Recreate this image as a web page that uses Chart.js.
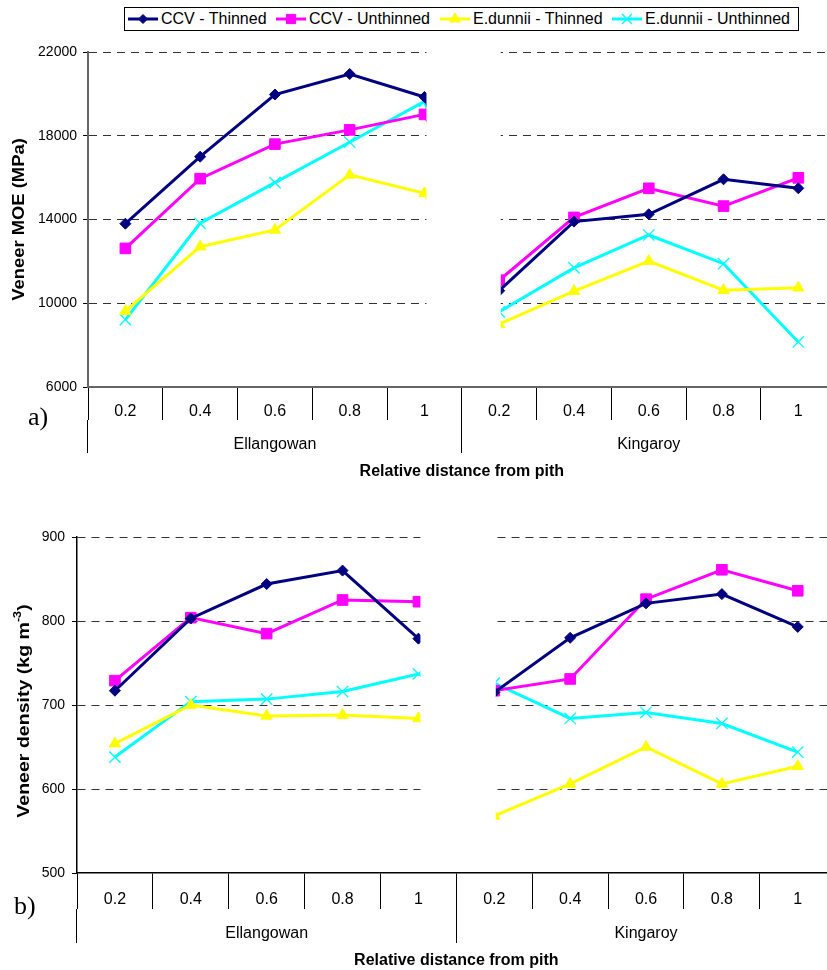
<!DOCTYPE html>
<html>
<head>
<meta charset="utf-8">
<title>Veneer MOE and density by relative distance from pith</title>
<script src="https://cdn.jsdelivr.net/npm/chart.js@4.4.1/dist/chart.umd.min.js"></script>
<style>
  html, body { margin: 0; padding: 0; background: #fff; overflow: hidden; width: 827px; height: 970px; }
  #wrap { position: relative; width: 827px; height: 970px; overflow: hidden; }
  #wrap > canvas { position: absolute; left: 0; }
  #moe { top: 0; }
  #den { top: 481px; }
  #legend { position: absolute; left: 124px; top: 7px; width: 673px; height: 22px; border: 1px solid #000;
            background: #fff; font: 16px "Liberation Sans", Arial, sans-serif; color: #000; }
  #legend .item { position: absolute; top: 0; height: 22px; display: flex; align-items: center; white-space: nowrap; }
  #legend .item canvas { display: block; margin-right: 3px; }
  .panel { position: absolute; font: 26px "Liberation Serif", "Times New Roman", serif; line-height: 26px; color: #000; }
</style>
</head>
<body>
<div id="wrap">
  <canvas id="moe" width="845" height="481"></canvas>
  <canvas id="den" width="845" height="489"></canvas>
  <div id="legend"></div>
  <div class="panel" style="left:28px; top:404px;">a)</div>
  <div class="panel" style="left:14px; top:893px;">b)</div>
</div>
<script>
// Categories: relative distance from pith, repeated for each site
const categories = ['0.2', '0.4', '0.6', '0.8', '1', '0.2', '0.4', '0.6', '0.8', '1'];
const sites = ['Ellangowan', 'Kingaroy'];
const seriesNames = ['CCV - Thinned', 'CCV - Unthinned', 'E.dunnii - Thinned', 'E.dunnii - Unthinned'];

// a) Veneer MOE (MPa)
const moeCcvThinned      = [13800, 17000, 19970, 20950, 19850, 10600, 13900, 14250, 15920, 15490];
const moeCcvUnthinned    = [12620, 15950, 17600, 18280, 19020, 11100, 14100, 15490, 14640, 15990];
const moeDunniiThinned   = [9620, 12700, 13500, 16130, 15250, 9000, 10580, 12010, 10620, 10740];
const moeDunniiUnthinned = [9220, 13820, 15760, 17690, 19640, 9590, 11690, 13260, 11890, 8150];
const moeTicks = [6000, 10000, 14000, 18000, 22000];

// b) Veneer density (kg m-3)
const denCcvThinned      = [717, 803, 844, 860, 779, 715, 780, 821, 832, 793];
const denCcvUnthinned    = [729, 804, 785, 825, 823, 717, 731, 826, 861, 836];
const denDunniiThinned   = [654, 700, 687, 688, 684, 568, 606, 650, 606, 627];
const denDunniiUnthinned = [638, 704, 707, 716, 737, 726, 684, 691, 678, 644];
const densityTicks = [500, 600, 700, 800, 900];

const FAMILY = '"Liberation Sans", Arial, sans-serif';

const seriesStyles = [
  { color: '#000080', pointStyle: 'rectRot',  radius: 5.5, borderWidth: 1,   legendRadius: 4.5 },
  { color: '#FF00FF', pointStyle: 'rect',     radius: 7.5, borderWidth: 1,   legendRadius: 6.5 },
  { color: '#FFFF00', pointStyle: 'triangle', radius: 6.5, borderWidth: 1,   legendRadius: 6 },
  { color: '#00FFFF', pointStyle: 'crossRot', radius: 8,   borderWidth: 1.3, legendRadius: 7 }
];

// The two sites are drawn as separate runs: blank the band between them
const siteBreak = {
  id: 'siteBreak',
  afterDatasetsDraw(chart) {
    const xs = chart.scales.x, a = chart.chartArea, ctx = chart.ctx;
    const perSite = categories.length / sites.length;
    const x0 = xs.getPixelForValue(perSite - 1) + 2;
    const x1 = xs.getPixelForValue(perSite) + 1.5;
    ctx.save();
    ctx.fillStyle = '#fff';
    ctx.fillRect(x0, a.top - 3, x1 - x0, a.bottom - 1.5 - (a.top - 3));
    ctx.restore();
  }
};

// Rotated y-axis title, with optional superscript part
const yTitle = {
  id: 'yTitle',
  afterDraw(chart, args, opts) {
    const ctx = chart.ctx, a = chart.chartArea;
    const cy = (a.top + a.bottom) / 2 + (opts.dy || 0);
    ctx.save();
    ctx.translate(opts.x, cy);
    ctx.rotate(-Math.PI / 2);
    ctx.scale(opts.stretch, 1);
    ctx.fillStyle = '#000';
    ctx.textBaseline = 'middle';
    ctx.textAlign = 'left';
    let total = 0;
    const widths = opts.parts.map(p => {
      ctx.font = 'bold ' + p.size + 'px ' + FAMILY;
      const w = ctx.measureText(p.text).width;
      total += w;
      return w;
    });
    let x = -total / 2;
    opts.parts.forEach((p, i) => {
      ctx.font = 'bold ' + p.size + 'px ' + FAMILY;
      ctx.fillText(p.text, x, p.rise ? -p.rise : 0);
      x += widths[i];
    });
    ctx.restore();
  }
};

function makeChart(id, seriesValues, ticks, o) {
  const datasets = seriesValues.map((vals, i) => {
    const st = seriesStyles[i];
    return {
      label: seriesNames[i],
      data: vals,
      borderColor: st.color,
      backgroundColor: st.color,
      borderWidth: 3,
      tension: 0,
      pointStyle: st.pointStyle,
      pointRadius: st.radius,
      pointHoverRadius: st.radius,
      pointBorderWidth: st.borderWidth,
      pointBackgroundColor: st.color,
      pointBorderColor: st.color,
      clip: false
    };
  });
  return new Chart(document.getElementById(id), {
    type: 'line',
    data: { labels: categories, datasets },
    options: {
      responsive: false,
      animation: false,
      devicePixelRatio: 1,
      events: [],
      layout: { padding: { top: o.top, right: 7, left: 0, bottom: 0 } },
      plugins: {
        legend: { display: false },
        tooltip: { enabled: false },
        yTitle: o.title
      },
      scales: {
        x: {
          type: 'category',
          position: 'bottom',
          weight: 0,
          offset: true,
          grid: { offset: true, drawOnChartArea: false, drawTicks: true, tickLength: o.tick1, tickColor: '#000', tickWidth: 1 },
          border: { display: true, color: o.axisColor, width: o.axisWidth },
          ticks: { padding: o.pad1, color: '#000', autoSkip: false, maxRotation: 0, font: { family: FAMILY, size: 16 } },
          afterFit(s) { s.height = o.tick1; }
        },
        site: {
          type: 'category',
          position: 'bottom',
          weight: 1,
          labels: sites,
          offset: true,
          grid: { offset: true, drawOnChartArea: false, drawTicks: true, tickLength: o.tick2, tickColor: '#000', tickWidth: 1 },
          border: { display: false },
          ticks: { padding: o.pad2, color: '#000', autoSkip: false, maxRotation: 0, font: { family: FAMILY, size: 16 } },
          title: { display: true, text: 'Relative distance from pith', color: '#000', padding: 0,
                   font: { family: FAMILY, size: 16, weight: 'bold' } },
          afterFit(s) { s.height = o.h2; }
        },
        y: {
          min: ticks[0],
          max: ticks[ticks.length - 1],
          ticks: { stepSize: ticks[1] - ticks[0], padding: o.ypad, color: '#000',
                   callback: v => String(v), font: { family: FAMILY, size: 14 } },
          grid: {
            color: c => (c.index === 0 ? 'rgba(0,0,0,0)' : '#333'),
            lineWidth: 1,
            drawTicks: true,
            tickLength: 5,
            tickColor: '#000',
            tickWidth: 1
          },
          border: { display: true, color: o.axisColor, width: o.axisWidth, dash: [8, 6] },
          afterFit(s) { s.width = o.yw; }
        }
      }
    },
    plugins: [siteBreak, yTitle]
  });
}

makeChart('moe',
  [moeCcvThinned, moeCcvUnthinned, moeDunniiThinned, moeDunniiUnthinned],
  moeTicks,
  { top: 52, tick1: 33, tick2: 33, pad1: -18, pad2: -18, h2: 61, yw: 88, ypad: 6,
    axisColor: '#666', axisWidth: 2,
    title: { x: 20, dy: 0, stretch: 1.15, parts: [{ text: 'Veneer MOE (MPa)', size: 16 }] } });

makeChart('den',
  [denCcvThinned, denCcvUnthinned, denDunniiThinned, denDunniiUnthinned],
  densityTicks,
  { top: 56, tick1: 36, tick2: 34, pad1: -19, pad2: -19, h2: 61, yw: 77, ypad: 7,
    axisColor: '#000', axisWidth: 1.5,
    title: { x: 24.5, dy: 6, stretch: 1.15, parts: [
      { text: 'Veneer density (kg m', size: 17 },
      { text: '-3', size: 11, rise: 7 },
      { text: ')', size: 17 }
    ] } });

// Legend: line sample with marker, then series name
(function buildLegend() {
  const box = document.getElementById('legend');
  const lefts = [3, 151, 315, 487];
  seriesNames.forEach((name, i) => {
    const st = seriesStyles[i];
    const item = document.createElement('div');
    item.className = 'item';
    item.style.left = lefts[i] + 'px';
    const c = document.createElement('canvas');
    c.width = 30; c.height = 16;
    const g = c.getContext('2d');
    g.strokeStyle = st.color;
    g.lineWidth = 3;
    g.beginPath(); g.moveTo(0, 8); g.lineTo(30, 8); g.stroke();
    g.fillStyle = st.color;
    g.lineWidth = st.borderWidth;
    Chart.helpers.drawPoint(g, { pointStyle: st.pointStyle, radius: st.legendRadius, rotation: 0, borderWidth: st.borderWidth }, 15, 8);
    const t = document.createElement('span');
    t.textContent = name;
    item.appendChild(c);
    item.appendChild(t);
    box.appendChild(item);
  });
})();
</script>
</body>
</html>
